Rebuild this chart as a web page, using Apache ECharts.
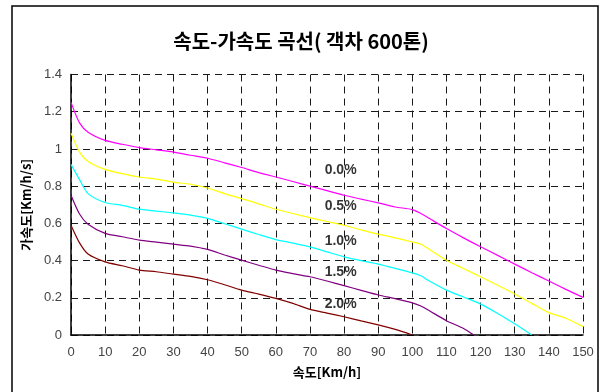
<!DOCTYPE html>
<html>
<head>
<meta charset="utf-8">
<script src="https://cdn.jsdelivr.net/npm/echarts@6/dist/echarts.min.js"></script>
<style>
  html, body { margin: 0; padding: 0; background: #fff; }
  #chart { width: 602px; height: 392px; }
</style>
</head>
<body>
<div id="chart"></div>
<script>
// Speed (km/h) at which each curve is sampled
const speeds = [0, 2.5, 5, 10, 15, 20, 25, 30, 35, 40, 45, 50, 55, 60, 65, 70, 75, 80, 85, 90, 95, 100, 102.5, 105, 110, 115, 120, 125, 130, 135, 140, 145, 150];

// Acceleration (km/h/s) per gradient
const grade00 = [1.25, 1.14, 1.09, 1.046, 1.025, 1.007, 0.995, 0.983, 0.966, 0.95, 0.925, 0.90, 0.873, 0.849, 0.825, 0.80, 0.776, 0.751, 0.73, 0.71, 0.688, 0.674, 0.653, 0.626, 0.572, 0.522, 0.474, 0.428, 0.381, 0.335, 0.29, 0.245, 0.202];
const grade05 = [1.085, 0.983, 0.933, 0.89, 0.867, 0.849, 0.838, 0.822, 0.81, 0.79, 0.76, 0.733, 0.705, 0.676, 0.653, 0.631, 0.61, 0.59, 0.565, 0.542, 0.522, 0.50, 0.488, 0.46, 0.402, 0.357, 0.313, 0.267, 0.22, 0.17, 0.12, 0.09, 0.045];
const grade10 = [0.917, 0.835, 0.76, 0.712, 0.697, 0.676, 0.666, 0.656, 0.644, 0.627, 0.598, 0.569, 0.54, 0.513, 0.494, 0.474, 0.447, 0.42, 0.40, 0.381, 0.358, 0.334, 0.318, 0.29, 0.241, 0.204, 0.166, 0.116, 0.06, 0];
const grade15 = [0.751, 0.65, 0.595, 0.546, 0.528, 0.51, 0.499, 0.488, 0.478, 0.46, 0.43, 0.402, 0.375, 0.349, 0.33, 0.313, 0.29, 0.265, 0.24, 0.215, 0.195, 0.173, 0.156, 0.13, 0.077, 0.035];
const grade15End = [118, 0];
const grade20 = [0.59, 0.495, 0.435, 0.393, 0.372, 0.349, 0.34, 0.327, 0.315, 0.297, 0.27, 0.241, 0.22, 0.197, 0.17, 0.138, 0.118, 0.098, 0.076, 0.054, 0.03, 0];

// Curve names and the point each label sits at [speed, accel]
const gradeNames = ['0.0%', '0.5%', '1.0%', '1.5%', '2.0%'];
const labelAnchors = [[79, 0.885], [79, 0.694], [79, 0.506], [79, 0.34], [79, 0.166]];

const xTicks = [0, 10, 20, 30, 40, 50, 60, 70, 80, 90, 100, 110, 120, 130, 140, 150];
const yTicks = [0, 0.2, 0.4, 0.6, 0.8, 1, 1.2, 1.4];

const colors = ['#ff00ff', '#ffff00', '#00ffff', '#800080', '#800000'];

function pairs(values, extra) {
  const out = values.map((v, i) => [speeds[i], v]);
  if (extra) out.push(extra);
  return out;
}

const curves = [pairs(grade00), pairs(grade05), pairs(grade10), pairs(grade15, grade15End), pairs(grade20)];

const chart = echarts.init(document.getElementById('chart'), null, { renderer: 'canvas' });

const gridStyle = { show: true, lineStyle: { color: '#1a1a1a', type: [7, 5], width: 1 } };
const nameFont = { fontFamily: 'Noto Sans CJK KR, sans-serif', fontWeight: 'bold', fontSize: 13, color: '#000' };

const series = curves.map((data, i) => ({
  name: gradeNames[i],
  type: 'line',
  data: data,
  symbol: 'none',
  smooth: 0.25,
  lineStyle: { color: colors[i], width: 1.2 },
  z: 3
}));

series.push({
  type: 'scatter',
  data: labelAnchors.map((p, i) => ({ value: p, name: gradeNames[i] })),
  symbolSize: 0,
  silent: true,
  label: {
    show: true,
    position: 'inside',
    formatter: p => p.name,
    color: '#000',
    fontFamily: 'Liberation Sans, Arial, sans-serif',
    fontWeight: 'bold',
    fontSize: 14
  },
  z: 4
});

chart.setOption({
  animation: false,
  backgroundColor: '#fff',
  title: {
    text: '속도-가속도 곡선( 객차 600톤)',
    left: 'center',
    top: 26,
    textStyle: {
      fontFamily: 'Noto Sans CJK KR, sans-serif',
      fontWeight: 'bold',
      fontSize: 20,
      color: '#000'
    }
  },
  grid: { left: 71, right: 19, top: 74.5, bottom: 57, containLabel: false },
  xAxis: {
    type: 'value',
    min: 0, max: 150, interval: 10,
    name: '속도[Km/h]',
    nameLocation: 'middle',
    nameGap: 31,
    nameTextStyle: nameFont,
    axisLine: { show: true, lineStyle: { color: '#000', width: 1.5 } },
    axisTick: { show: false },
    axisLabel: {
      color: '#444', fontSize: 13, margin: 11,
      fontFamily: 'Liberation Sans, Arial, sans-serif',
      formatter: v => xTicks.includes(v) ? String(v) : ''
    },
    splitLine: gridStyle
  },
  yAxis: {
    type: 'value',
    min: 0, max: 1.4, interval: 0.2,
    name: '가속도[Km/h/s]',
    nameLocation: 'middle',
    nameGap: 28,
    nameTextStyle: nameFont,
    axisLine: { show: true, lineStyle: { color: '#000', width: 1.5 } },
    axisTick: { show: false },
    axisLabel: {
      color: '#444', fontSize: 13, margin: 9,
      fontFamily: 'Liberation Sans, Arial, sans-serif',
      formatter: v => {
        const t = yTicks.find(k => Math.abs(k - v) < 1e-6);
        return t === undefined ? '' : String(t);
      }
    },
    splitLine: gridStyle
  },
  graphic: [{
    type: 'rect',
    shape: { x: 12, y: 6, width: 586, height: 400 },
    style: { fill: null, stroke: '#000', lineWidth: 1.5 },
    silent: true,
    z: 10
  }],
  series: series
});
</script>
</body>
</html>
